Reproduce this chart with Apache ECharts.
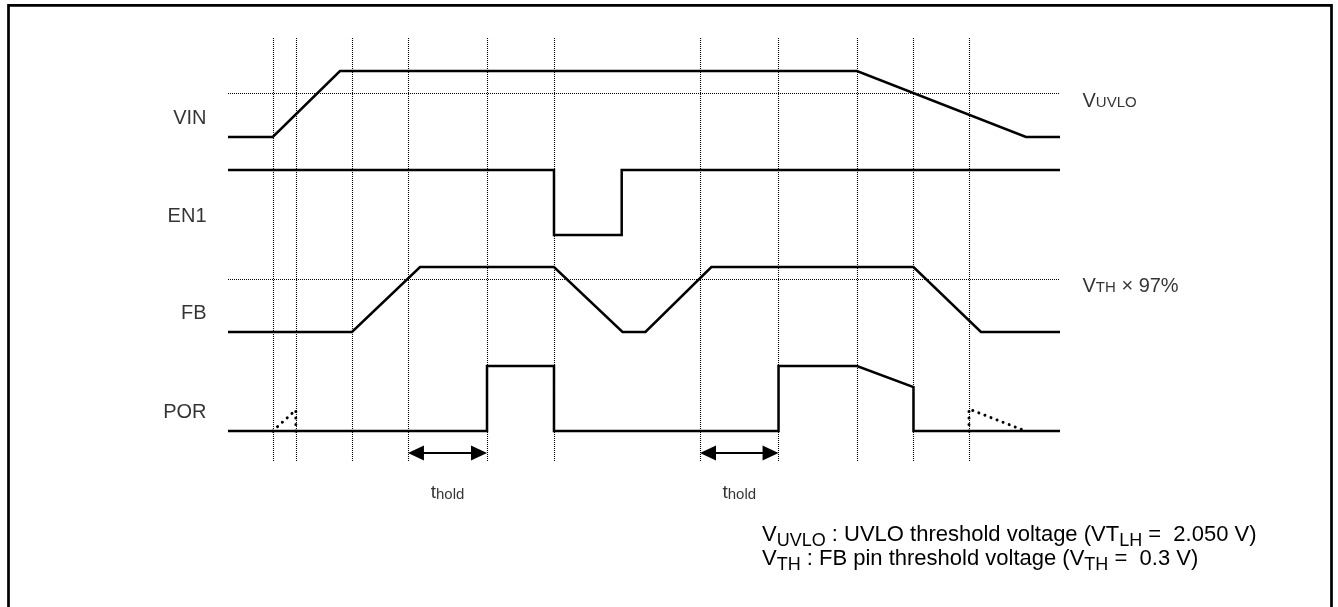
<!DOCTYPE html>
<html>
<head>
<meta charset="utf-8">
<script src="https://cdn.jsdelivr.net/npm/echarts@6/dist/echarts.min.js"></script>
<style>
html,body{margin:0;padding:0;background:#fff;}
#chart{width:1338px;height:607px;}
</style>
</head>
<body>
<div id="chart"></div>
<script>
// ---------- DATA (time in arbitrary units 0..100, levels normalised 0 = low, 1 = high) ----------
const signalNames = ['VIN', 'EN1', 'FB', 'POR'];
const vinWave = [[0,0],[5.38,0],[13.46,1],[75.60,1],[95.91,0],[100,0]];
const en1Wave = [[0,1],[39.18,1],[39.18,0],[47.32,0],[47.32,1],[100,1]];
const fbWave  = [[0,0],[14.90,0],[23.08,1],[39.18,1],[47.42,0],[50.17,0],[58.10,1],[82.39,1],[90.50,0],[100,0]];
const porWave = [[0,0],[31.13,0],[31.13,1],[39.18,1],[39.18,0],[66.17,0],[66.17,1],[75.60,1],[82.39,0.677],[82.39,0],[100,0]];
const porUndefStart = [[5.38,0],[8.15,0.323],[8.15,0]];
const porUndefEnd   = [[89.06,0],[89.06,0.338],[95.85,0]];
const eventTimes = [5.38, 8.15, 14.90, 21.63, 31.13, 39.18, 56.73, 66.17, 75.60, 82.39, 89.06];
const uvloLevel = 0.662;   // VUVLO on VIN row
const vthLevel  = 0.815;   // VTH x 97% on FB row
const holdSpans = [[21.63, 31.13], [56.73, 66.17]];
const noteLines = [
  '{v|V}{s|UVLO}{m| : UVLO threshold voltage (VT}{s|LH}{m| =  2.050 V)}',
  '{v|V}{s|TH}{m| : FB pin threshold voltage (V}{s|TH}{m| =  0.3 V)}'
];

// ---------- LAYOUT / STYLE ----------
const F = '"Liberation Sans", Arial, Helvetica, sans-serif';
const PLOT_LEFT = 228, PLOT_RIGHT = 1338 - 1060;
const rowLayout = [
  {top: 71,  height: 66},
  {top: 170, height: 65},
  {top: 267, height: 65},
  {top: 366, height: 65}
];
const overlayLayout = {top: 38, height: 423};
const pxPerUnit = (1338 - PLOT_LEFT - PLOT_RIGHT) / 100;
const rowLabelT = -21 / pxPerUnit;       // right edge of row names
const rowLabelV = 0.28;
const sideLabelT = 100 + 22 / pxPerUnit;
const arrowV = 8 / overlayLayout.height;
const arrowInset = 8 / pxPerUnit;

const grids = rowLayout.map(r => ({left: PLOT_LEFT, right: PLOT_RIGHT, top: r.top, height: r.height}));
grids.push({left: PLOT_LEFT, right: PLOT_RIGHT, top: overlayLayout.top, height: overlayLayout.height});
const xAxes = grids.map((g, i) => ({type: 'value', gridIndex: i, min: 0, max: 100, show: false}));
const yAxes = grids.map((g, i) => ({type: 'value', gridIndex: i, min: 0, max: 1, show: false}));

const solid = {color: '#000', width: 2.5, join: 'miter', cap: 'butt'};
const fineDot = {color: '#000', width: 1.1, type: [1, 1]};
const bigDot = {color: '#000', width: 3, type: [0.01, 6.5], cap: 'round'};

const waves = [vinWave, en1Wave, fbWave, porWave];
const series = [];

waves.forEach((w, i) => {
  const s = {
    type: 'line', xAxisIndex: i, yAxisIndex: i, data: w,
    symbol: 'none', showSymbol: false, clip: false, silent: true,
    lineStyle: solid, z: 5
  };
  if (i === 0 || i === 2) {
    s.markLine = {
      silent: true, symbol: 'none', animation: false,
      label: {show: false},
      lineStyle: fineDot,
      data: [{yAxis: i === 0 ? uvloLevel : vthLevel}]
    };
  }
  series.push(s);
  // row name
  series.push({
    type: 'scatter', xAxisIndex: i, yAxisIndex: i, clip: false, silent: true,
    symbolSize: 1, itemStyle: {color: 'rgba(0,0,0,0)'},
    data: [[rowLabelT, rowLabelV]],
    label: {show: true, position: 'left', distance: 0, formatter: signalNames[i],
            fontFamily: F, fontSize: 20, color: '#000'}
  });
});

// undefined POR states (dotted)
[porUndefStart, porUndefEnd].forEach(d => series.push({
  type: 'line', xAxisIndex: 3, yAxisIndex: 3, data: d, symbol: 'none', clip: false,
  silent: true, lineStyle: bigDot, z: 4
}));

// threshold names
const smallCapsRich = {
  b: {fontFamily: F, fontSize: 20, color: '#000'},
  s: {fontFamily: F, fontSize: 15, color: '#000', padding: [3.5, 0, 0, 0]}
};
series.push({
  type: 'scatter', xAxisIndex: 0, yAxisIndex: 0, clip: false, silent: true,
  symbolSize: 1, itemStyle: {color: 'rgba(0,0,0,0)'},
  data: [[sideLabelT, uvloLevel]],
  label: {show: true, position: 'right', distance: 0, offset: [0, 8],
          formatter: '{b|V}{s|UVLO}', rich: smallCapsRich}
});
series.push({
  type: 'scatter', xAxisIndex: 2, yAxisIndex: 2, clip: false, silent: true,
  symbolSize: 1, itemStyle: {color: 'rgba(0,0,0,0)'},
  data: [[sideLabelT, vthLevel]],
  label: {show: true, position: 'right', distance: 0, offset: [0, 7],
          formatter: '{b|V}{s|TH}{b| \u00d7 97%}', rich: smallCapsRich}
});

// vertical timing markers
series.push({
  type: 'line', xAxisIndex: 4, yAxisIndex: 4, data: [[0, 0]], symbol: 'none',
  lineStyle: {width: 0}, silent: true,
  markLine: {
    silent: true, symbol: 'none', animation: false, label: {show: false},
    lineStyle: fineDot,
    data: eventTimes.map(t => ({xAxis: t}))
  }
});

// t_hold arrows
series.push({
  type: 'line', xAxisIndex: 4, yAxisIndex: 4, data: [[0, 0]], symbol: 'none',
  lineStyle: {width: 0}, silent: true,
  markLine: {
    silent: true, animation: false, symbol: ['triangle', 'triangle'], symbolSize: [15, 16],
    label: {show: false},
    lineStyle: {color: '#000', width: 2.2, type: 'solid'},
    itemStyle: {color: '#000'},
    data: holdSpans.map(([a, b]) => [{coord: [a + arrowInset, arrowV]}, {coord: [b - arrowInset, arrowV]}])
  }
});
// t_hold names
series.push({
  type: 'scatter', xAxisIndex: 4, yAxisIndex: 4, clip: false, silent: true,
  symbolSize: 1, itemStyle: {color: 'rgba(0,0,0,0)'},
  data: holdSpans.map(([a, b]) => [(a + b) / 2, arrowV]),
  label: {show: true, position: 'bottom', distance: 30,
          formatter: '{t|t}{h|hold}',
          rich: {
            t: {fontFamily: F, fontSize: 19, color: '#000'},
            h: {fontFamily: F, fontSize: 15, color: '#000', padding: [3, 0, 0, 0]}
          }}
});

const chart = echarts.init(document.getElementById('chart'), null, {renderer: 'canvas'});
chart.setOption({
  animation: false,
  backgroundColor: '#fff',
  grid: grids,
  xAxis: xAxes,
  yAxis: yAxes,
  title: {
    left: 762, top: 523, padding: 0,
    text: noteLines.join('\n'),
    textStyle: {
      fontFamily: F, fontSize: 22, color: '#000', fontWeight: 'normal', lineHeight: 24,
      rich: {
        v: {fontFamily: F, fontSize: 22, color: '#000', lineHeight: 24},
        m: {fontFamily: F, fontSize: 22, color: '#000', lineHeight: 24},
        s: {fontFamily: F, fontSize: 18, color: '#000', lineHeight: 12, padding: [12, 0, 0, 0]}
      }
    }
  },
  graphic: [{
    type: 'rect', silent: true, z: 100,
    shape: {x: 8.5, y: 5.3, width: 1323, height: 700},
    style: {fill: 'none', stroke: '#000', lineWidth: 2.7}
  }],
  series: series
});
</script>
</body>
</html>
